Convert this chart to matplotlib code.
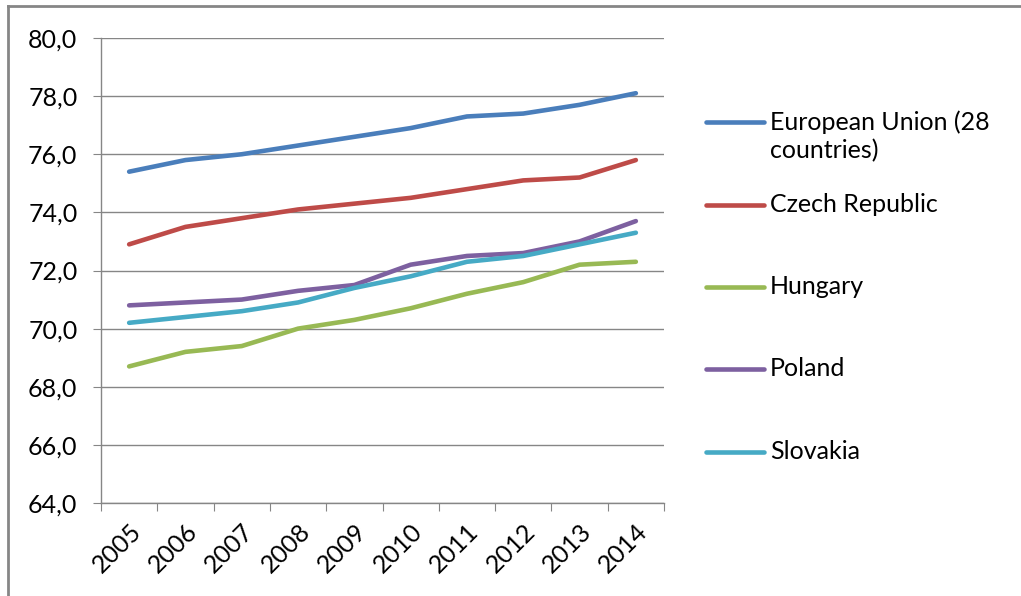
import matplotlib.pyplot as plt
from matplotlib.lines import Line2D
import numpy as np

plt.rcParams['font.family'] = ['Lato', 'DejaVu Sans']

years = ['2005', '2006', '2007', '2008', '2009', '2010', '2011', '2012', '2013', '2014']
eu28 = [75.4, 75.8, 76.0, 76.3, 76.6, 76.9, 77.3, 77.4, 77.7, 78.1]
czech = [72.9, 73.5, 73.8, 74.1, 74.3, 74.5, 74.8, 75.1, 75.2, 75.8]
hungary = [68.7, 69.2, 69.4, 70.0, 70.3, 70.7, 71.2, 71.6, 72.2, 72.3]
poland = [70.8, 70.9, 71.0, 71.3, 71.5, 72.2, 72.5, 72.6, 73.0, 73.7]
slovakia = [70.2, 70.4, 70.6, 70.9, 71.4, 71.8, 72.3, 72.5, 72.9, 73.3]

names = ['European Union (28\ncountries)', 'Czech Republic', 'Hungary', 'Poland', 'Slovakia']
colors = ['#4A7EBB', '#BE4B48', '#98B954', '#7D60A0', '#46AAC5']
series = [eu28, czech, hungary, poland, slovakia]

grey = '#868686'
fs = 18

fig = plt.figure(figsize=(10.21, 5.96), dpi=100)
ax = fig.add_axes([101 / 1021, 1 - 503 / 596, 563 / 1021, 465 / 596])

x = np.arange(len(years))
for vals, c in zip(series, colors):
    ax.plot(x, vals, color=c, linewidth=3.3, solid_capstyle='round', zorder=3)

ax.set_xlim(-0.5, len(years) - 0.5)
ax.set_ylim(64, 80)
ax.set_yticks(np.arange(64, 81, 2))
ax.set_yticklabels([f'{v:.1f}'.replace('.', ',') for v in np.arange(64, 81, 2)])
ax.grid(axis='y', color=grey, linewidth=1)
ax.set_axisbelow(True)

# category boundary ticks, labels at centres
ax.set_xticks(np.arange(-0.5, len(years), 1))
ax.set_xticklabels([])
ax.set_xticks(x, minor=True)
ax.set_xticklabels(years, minor=True, rotation=45, ha='right',
                   rotation_mode='anchor')
ax.tick_params(axis='x', which='minor', length=0, pad=12, labelsize=fs)
ax.tick_params(axis='x', which='major', length=6, color=grey)
ax.tick_params(axis='y', length=6, color=grey, pad=11, labelsize=fs)

for s in ['top', 'right']:
    ax.spines[s].set_visible(False)
for s in ['left', 'bottom']:
    ax.spines[s].set_color(grey)
    ax.spines[s].set_linewidth(1)

# legend drawn by hand, Excel style
leg_y = [122, 205, 287, 369, 452]
for name, c, yy in zip(names, colors, leg_y):
    fy = 1 - yy / 596
    fig.add_artist(Line2D([706 / 1021, 764 / 1021], [fy, fy], color=c,
                          linewidth=3.3, solid_capstyle='round'))
    fig.text(770 / 1021, fy + 0.02, name, fontsize=fs, va='top', ha='left',
             linespacing=1.3)

# chart area border (left and top visible)
fig.add_artist(Line2D([8 / 1021, 8 / 1021], [0, 1 - 6 / 596], color=grey, linewidth=2))
fig.add_artist(Line2D([8 / 1021, 1], [1 - 6 / 596, 1 - 6 / 596], color=grey, linewidth=2))

fig.savefig('out.png', dpi=100)
